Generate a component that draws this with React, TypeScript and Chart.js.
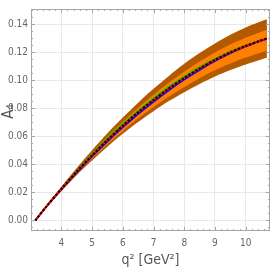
import React, { useEffect, useRef } from "react";
import { Chart, registerables } from "chart.js";

Chart.register(...registerables);

const q2 = [3.157, 3.5, 4, 4.5, 5, 5.5, 6, 6.5, 7, 7.5, 8, 8.5, 9, 9.5, 10, 10.5, 10.69];
const central = [0, 0.0095, 0.0224, 0.0348, 0.0464, 0.0574, 0.0676, 0.0772, 0.086, 0.0942, 0.1017, 0.1085, 0.1146, 0.12, 0.1246, 0.1286, 0.1299];
const greenCurve = [0, 0.0097, 0.0229, 0.0356, 0.0474, 0.0586, 0.0689, 0.0785, 0.0873, 0.0955, 0.1029, 0.1096, 0.1155, 0.1207, 0.1251, 0.1289, 0.1301];
const blueCurve = [0, 0.0093, 0.0219, 0.034, 0.0454, 0.0562, 0.0663, 0.0759, 0.0847, 0.0929, 0.1005, 0.1074, 0.1137, 0.1193, 0.1241, 0.1283, 0.1297];
const outerHigh = [0, 0.0101, 0.024, 0.0374, 0.0501, 0.0622, 0.0734, 0.0841, 0.094, 0.1032, 0.1118, 0.1195, 0.1264, 0.1326, 0.1378, 0.1422, 0.1437];
const outerLow = [0, 0.0089, 0.0208, 0.0322, 0.0427, 0.0526, 0.0618, 0.0703, 0.078, 0.0852, 0.0916, 0.0975, 0.1028, 0.1074, 0.1114, 0.115, 0.1161];
const innerHigh = [0, 0.0098, 0.0231, 0.036, 0.0481, 0.0596, 0.0702, 0.0803, 0.0896, 0.0983, 0.1062, 0.1135, 0.1199, 0.1257, 0.1305, 0.1347, 0.1361];
const innerLow = [0, 0.0091, 0.0214, 0.0332, 0.0441, 0.0544, 0.0639, 0.0729, 0.081, 0.0885, 0.0953, 0.1016, 0.1072, 0.1121, 0.1163, 0.12, 0.1212];

const xTicks = [4, 5, 6, 7, 8, 9, 10];
const yTicks = [0, 0.02, 0.04, 0.06, 0.08, 0.1, 0.12, 0.14];

const FONT = "'Liberation Sans Narrow', 'DejaVu Sans Condensed', 'Roboto Condensed', 'Liberation Sans', sans-serif";

const pts = (ys: number[]) => q2.map((x, i) => ({ x, y: ys[i] }));

const framePlugin = {
  id: "frameTicks",
  afterDatasetsDraw(chart: any) {
    const { ctx, chartArea: a, scales } = chart;
    const xs = scales.x;
    const ys = scales.y;
    ctx.save();
    ctx.strokeStyle = "#a6a6a6";
    ctx.lineWidth = 1;
    ctx.strokeRect(a.left + 0.5, a.top + 0.5, a.right - a.left - 1, a.bottom - a.top - 1);
    ctx.beginPath();
    for (let i = 16; i <= 54; i++) {
      const v = i / 5;
      const px = Math.round(xs.getPixelForValue(v)) + 0.5;
      if (px < a.left || px > a.right) continue;
      const major = i % 5 === 0;
      const len = major ? 4 : 2;
      ctx.moveTo(px, a.bottom);
      ctx.lineTo(px, a.bottom - len);
      ctx.moveTo(px, a.top);
      ctx.lineTo(px, a.top + len);
    }
    for (let i = -1; i <= 30; i++) {
      const v = i * 0.005;
      const py = Math.round(ys.getPixelForValue(v)) + 0.5;
      if (py < a.top || py > a.bottom) continue;
      const major = i % 4 === 0;
      const len = major ? 4 : 2;
      ctx.moveTo(a.left, py);
      ctx.lineTo(a.left + len, py);
      ctx.moveTo(a.right, py);
      ctx.lineTo(a.right - len, py);
    }
    ctx.stroke();
    ctx.restore();
  },
};

export default function App() {
  const ref = useRef<HTMLCanvasElement | null>(null);
  useEffect(() => {
    document.body.style.margin = "0";
    const canvas = ref.current!;
    const band = { pointRadius: 0, tension: 0.3, borderWidth: 0, borderColor: "rgba(0,0,0,0)" };
    const line = { pointRadius: 0, tension: 0.3, fill: false };
    const chart = new Chart(canvas, {
      type: "line",
      data: {
        datasets: [
          { data: pts(outerLow), fill: false, order: 8, ...band },
          { data: pts(outerHigh), backgroundColor: "#b35900", fill: "-1", order: 7, ...band },
          { data: pts(innerLow), fill: false, order: 6, ...band },
          { data: pts(innerHigh), backgroundColor: "#ff8000", fill: "-1", order: 5, ...band },
          { data: pts(greenCurve), borderColor: "#00d000", borderWidth: 1.5, order: 4, ...line },
          { data: pts(blueCurve), borderColor: "#0000ff", borderWidth: 1.5, order: 3, ...line },
          { data: pts(central), borderColor: "#ff0000", borderWidth: 2, order: 2, ...line },
          { data: pts(central), borderColor: "#000000", borderWidth: 2, borderDash: [2, 2], order: 1, ...line },
        ],
      },
      options: {
        animation: false,
        responsive: false,
        maintainAspectRatio: false,
        layout: { padding: { top: 1, right: 3, bottom: 0, left: 0 } },
        plugins: { legend: { display: false }, tooltip: { enabled: false } },
        scales: {
          x: {
            type: "linear",
            min: 3.014,
            max: 10.79,
            afterFit: (s: any) => { s.height = 42; },
            afterBuildTicks: (s: any) => { s.ticks = xTicks.map((v) => ({ value: v })); },
            grid: { color: "#e8e8e8", drawTicks: false },
            border: { display: false },
            ticks: { color: "#666", padding: 6, font: { family: FONT, size: 10 }, callback: (v: any) => String(v) },
            title: { display: true, text: "q² [GeV²]", color: "#555", font: { family: FONT, size: 14 }, padding: { top: 0, bottom: 4 } },
          },
          y: {
            type: "linear",
            min: -0.0076,
            max: 0.151,
            afterFit: (s: any) => { s.width = 31; },
            afterBuildTicks: (s: any) => { s.ticks = yTicks.map((v) => ({ value: v })); },
            grid: { color: "#e8e8e8", drawTicks: false },
            border: { display: false },
            ticks: { color: "#666", padding: 3, font: { family: FONT, size: 10 }, callback: (v: any) => Number(v).toFixed(2) },
            title: { display: true, text: "    A₄", color: "#555", font: { family: FONT, size: 15 }, padding: { top: 0, bottom: 0 } },
          },
        },
      },
      plugins: [framePlugin],
    });
    return () => chart.destroy();
  }, []);
  return <canvas ref={ref} width={273} height={273} style={{ display: "block", width: 273, height: 273 }} />;
}
